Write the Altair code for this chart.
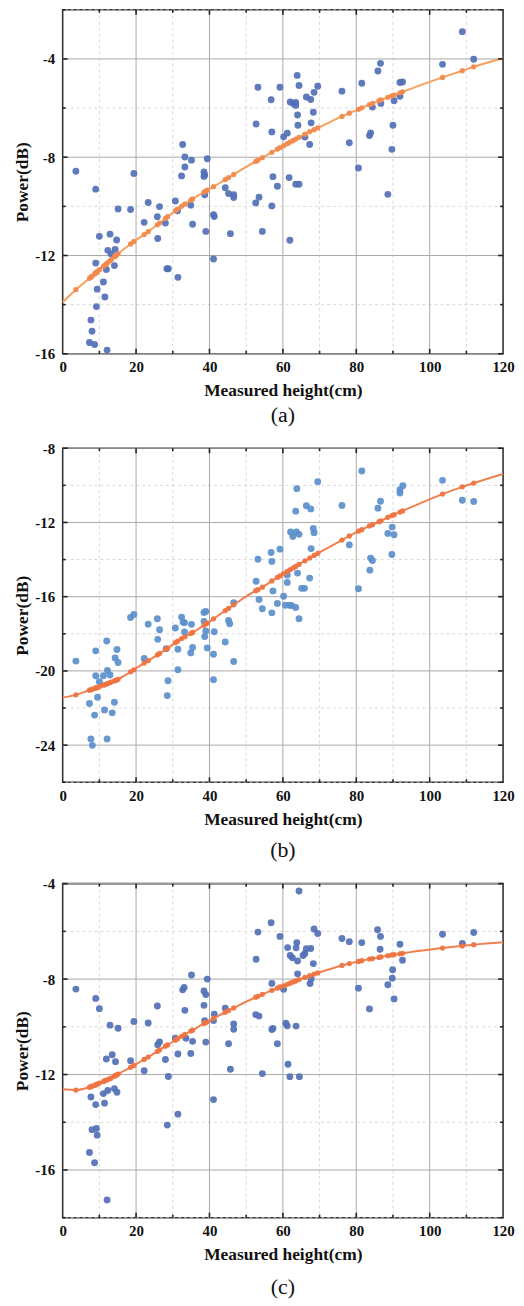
import altair as alt
import pandas as pd

# ---------------- data ----------------
# Panel (a) scatter
a_x = [3.6, 9.0, 10.0, 12.9, 15.1, 19.4, 18.5, 14.7, 12.3, 13.2, 14.3, 9.0, 11.9, 14.1, 11.1, 9.4,
       11.5, 9.2, 7.7, 8.0, 7.3, 8.7, 12.1, 22.2, 23.3, 26.4, 25.8, 25.9, 28.0, 28.4, 28.8, 31.4,
       30.7, 31.3, 32.7, 33.3, 33.3, 32.4, 35.1, 34.9, 35.4, 39.4, 38.5, 38.7, 38.5, 38.7, 39.0,
       41.1, 41.3, 41.1, 44.3, 45.2, 46.6, 46.6, 45.7, 52.7, 53.2, 56.8, 59.2, 62.0, 57.0, 60.2,
       61.2, 57.3, 58.5, 52.6, 53.5, 57.0, 54.4, 61.7, 61.9,
       108.9, 112.0, 103.5, 86.6, 85.9, 81.5, 91.9, 92.6, 76.1, 63.9, 64.4, 69.5, 68.5, 66.4,
       67.6, 62.8, 63.5, 63.5, 68.3, 64.0, 64.1, 67.7, 66.0, 67.3, 78.1, 83.9, 83.6, 90.0, 89.7,
       90.3, 91.9, 86.7, 84.4, 80.6, 88.6, 63.5, 64.4]
a_y = [-8.57, -9.30, -11.22, -11.13, -10.11, -8.66, -10.13, -11.37, -11.79, -11.94, -11.75, -12.31,
       -12.57, -12.41, -13.08, -13.37, -13.69, -14.08, -14.63, -15.08, -15.54, -15.62, -15.85,
       -10.65, -9.84, -10.01, -10.42, -11.31, -10.68, -12.54, -12.54, -12.89, -9.78, -10.18, -7.48,
       -7.99, -8.40, -8.76, -8.12, -9.95, -10.73, -8.06, -8.60, -8.72, -8.78, -9.53, -11.02, -10.34,
       -10.41, -12.14, -9.24, -9.48, -9.53, -9.64, -11.11, -6.65, -5.15, -5.66, -5.15, -5.75, -6.97,
       -7.17, -7.02, -8.79, -9.18, -9.86, -9.63, -9.98, -11.02, -8.83, -11.38,
       -2.89, -4.01, -4.22, -4.18, -4.49, -4.99, -4.96, -4.94, -5.31, -4.67, -5.08, -5.11, -5.36,
       -5.55, -5.65, -5.81, -5.77, -5.89, -6.17, -6.28, -6.70, -6.60, -7.18, -7.48, -7.41, -7.01,
       -7.12, -6.70, -7.68, -5.70, -5.52, -5.81, -5.96, -8.44, -9.51, -9.10, -9.10]

# Panel (b) scatter
b_x = [3.6, 9.0, 12.0, 14.8, 14.3, 15.1, 12.2, 12.9, 9.0, 11.1, 10.0, 9.5, 7.3, 8.7, 11.4, 14.1,
       13.5, 7.7, 8.1, 12.1, 18.5, 19.4, 22.2, 23.3, 25.8, 25.9, 26.4, 28.2, 28.7, 28.5, 30.7, 31.4,
       31.4, 32.4, 32.8, 33.2, 33.2, 35.1, 35.4, 34.9, 38.5, 39.0, 38.5, 39.0, 38.7, 39.4, 41.1,
       41.3, 41.1, 44.3, 45.2, 45.5, 46.6, 46.6, 52.7, 53.2, 56.8, 57.0, 59.2, 57.3, 58.5, 53.5,
       54.4, 57.0,
       60.2, 61.2, 61.2, 60.7, 61.9, 62.4, 63.5, 64.4, 62.1, 63.7, 62.7, 64.4, 63.5, 63.8, 64.0,
       65.1, 65.9,
       81.5, 69.5, 103.5, 92.7, 91.9, 91.9, 108.9, 112.0, 76.1, 85.9, 86.6, 66.4, 67.6, 68.3, 68.5,
       78.1, 67.7, 88.6, 89.8, 90.3, 89.7, 83.9, 84.4, 83.7, 80.6, 67.3]
b_y = [-19.47, -18.92, -18.39, -18.85, -19.30, -19.55, -19.97, -20.22, -20.26, -20.26, -20.58,
       -21.42, -21.76, -22.38, -22.10, -21.69, -22.26, -23.67, -24.01, -23.67, -17.12, -16.96,
       -19.33, -17.48, -17.19, -18.30, -17.78, -18.80, -20.53, -21.33, -17.69, -18.83, -19.94,
       -17.10, -17.37, -17.40, -17.90, -17.49, -18.74, -19.03, -16.85, -16.80, -17.33, -17.85,
       -18.15, -18.76, -19.10, -17.89, -20.47, -18.44, -17.28, -17.46, -16.33, -19.49, -15.17,
       -13.98, -13.62, -14.10, -13.44, -15.69, -16.37, -16.15, -16.65, -16.87,
       -15.98, -15.23, -14.83, -16.46, -16.46, -16.48, -16.58, -17.19, -12.51, -12.51, -12.76,
       -12.64, -11.39, -10.18, -14.73, -15.55, -15.55,
       -9.23, -9.80, -9.73, -10.02, -10.23, -10.41, -10.80, -10.87, -11.09, -11.23, -10.86, -11.10,
       -11.27, -12.32, -12.55, -13.21, -13.41, -12.59, -12.25, -12.66, -13.73, -13.92, -14.05,
       -14.57, -15.57, -15.00]

# Panel (c) scatter
c_x = [3.6, 9.0, 10.0, 12.9, 15.1, 19.4, 18.5, 23.3, 25.8, 26.4, 25.9, 22.2, 28.0, 28.8, 28.5,
       31.4, 30.7, 31.4, 11.9, 13.5, 14.4, 32.7, 33.1, 33.3, 35.1, 35.4, 34.9, 33.6, 38.5, 39.0,
       39.4, 38.5, 38.7, 39.0, 41.3, 41.1, 41.1, 44.3, 46.6, 46.6, 45.2, 45.7, 52.7, 53.2, 56.8,
       59.2, 57.0, 60.2, 52.6, 53.5, 57.3, 57.0, 58.5, 54.4, 60.8, 61.2, 61.4, 61.9, 11.1, 12.3,
       14.1, 14.8, 7.7, 9.0, 11.4, 8.0, 9.2, 9.4, 7.3, 8.7, 12.1,
       64.4, 68.5, 69.5, 85.8, 86.6, 76.1, 78.1, 81.5, 103.5, 112.0, 108.9, 61.3, 63.8, 63.6, 66.4,
       67.6, 62.0, 62.6, 64.0, 65.5, 66.0, 68.3, 86.5, 91.9, 92.6, 64.0, 67.4, 67.7, 80.6, 89.9,
       89.8, 88.6, 90.3, 83.6, 63.6, 64.5]
c_y = [-8.42, -8.81, -9.24, -9.93, -10.06, -9.78, -11.42, -9.84, -9.13, -10.63, -10.75, -11.84,
       -11.37, -12.08, -14.12, -13.66, -10.48, -11.14, -11.35, -11.17, -11.46, -8.45, -8.35, -9.31,
       -7.83, -10.61, -11.12, -10.48, -8.50, -8.65, -8.00, -9.10, -9.74, -10.64, -9.47, -9.74,
       -13.05, -9.22, -9.88, -10.10, -10.71, -11.78, -7.17, -6.03, -5.64, -6.21, -8.18, -8.43,
       -9.49, -9.55, -10.07, -10.11, -10.71, -11.96, -9.85, -9.96, -11.57, -12.09, -12.80, -12.67,
       -12.59, -12.74, -12.94, -13.26, -13.20, -14.31, -14.26, -14.54, -15.27, -15.70, -17.26,
       -4.31, -5.90, -6.09, -5.93, -6.21, -6.30, -6.43, -6.47, -6.12, -6.05, -6.51, -6.68, -6.47,
       -6.69, -6.73, -6.72, -7.01, -7.11, -7.24, -7.01, -6.93, -7.35, -6.75, -6.54, -7.21, -7.78,
       -8.19, -8.00, -8.38, -7.61, -7.96, -8.24, -8.83, -9.25, -9.97, -12.09]

# Fitted-curve points (orange dots), read at the measured heights
fit_x = [3.6, 7.3, 7.7, 8.0, 8.7, 9.0, 9.2, 9.4, 10.0, 11.1, 11.5, 11.9, 12.3, 12.9, 13.2, 14.1,
         14.3, 14.7, 15.1, 18.5, 19.4, 22.2, 23.3, 25.8, 26.4, 28.0, 28.6, 30.7, 31.3, 32.4, 33.3,
         34.9, 35.4, 38.5, 39.0, 39.4, 41.1, 44.3, 45.2, 46.6, 52.6, 53.2, 54.4, 57.0, 58.5, 59.2,
         60.2, 61.2, 62.0, 62.8, 63.5, 64.4, 66.0, 67.3, 68.5, 69.5, 76.1, 78.1, 80.6, 81.5, 83.6,
         84.4, 86.2, 86.7, 88.6, 89.7, 90.3, 91.9, 92.6, 103.5, 108.9, 112.0]
fit_a = [-13.39, -12.93, -12.88, -12.84, -12.75, -12.71, -12.69, -12.66, -12.58, -12.44, -12.39,
         -12.34, -12.29, -12.21, -12.18, -12.05, -12.03, -11.98, -11.93, -11.53, -11.43, -11.15,
         -11.03, -10.75, -10.68, -10.49, -10.42, -10.18, -10.11, -10.00, -9.90, -9.75, -9.70, -9.42,
         -9.38, -9.34, -9.20, -8.91, -8.83, -8.70, -8.17, -8.12, -8.02, -7.80, -7.67, -7.61, -7.53,
         -7.45, -7.38, -7.32, -7.26, -7.19, -7.06, -6.96, -6.88, -6.81, -6.34, -6.21, -6.05, -5.99,
         -5.86, -5.81, -5.70, -5.67, -5.56, -5.50, -5.47, -5.38, -5.34, -4.75, -4.48, -4.32]
fit_b = [-21.29, -21.04, -21.02, -20.99, -20.94, -20.92, -20.91, -20.89, -20.85, -20.77, -20.74,
         -20.71, -20.68, -20.63, -20.60, -20.54, -20.52, -20.49, -20.45, -20.05, -19.94, -19.58,
         -19.45, -19.14, -19.06, -18.85, -18.77, -18.48, -18.40, -18.26, -18.16, -17.98, -17.93,
         -17.54, -17.47, -17.42, -17.19, -16.75, -16.63, -16.44, -15.68, -15.62, -15.49, -15.15,
         -14.96, -14.88, -14.76, -14.64, -14.54, -14.45, -14.37, -14.26, -14.07, -13.92, -13.78,
         -13.67, -12.95, -12.73, -12.47, -12.39, -12.19, -12.12, -11.96, -11.92, -11.72, -11.63,
         -11.58, -11.44, -11.38, -10.47, -10.08, -9.88]
fit_c = [-12.65, -12.53, -12.51, -12.49, -12.45, -12.43, -12.42, -12.40, -12.36, -12.29, -12.26,
         -12.23, -12.21, -12.17, -12.15, -12.07, -12.05, -12.02, -11.98, -11.70, -11.62, -11.37,
         -11.27, -11.03, -10.97, -10.81, -10.76, -10.56, -10.50, -10.40, -10.32, -10.18, -10.14,
         -9.86, -9.82, -9.79, -9.65, -9.39, -9.32, -9.21, -8.76, -8.72, -8.64, -8.47, -8.38, -8.33,
         -8.28, -8.22, -8.17, -8.12, -8.08, -8.02, -7.93, -7.86, -7.79, -7.74, -7.43, -7.35, -7.26,
         -7.23, -7.16, -7.14, -7.09, -7.07, -7.02, -6.99, -6.97, -6.94, -6.92, -6.70, -6.61, -6.56]
# curve ends at x = 0 and x = 120
curve_end_x = [0, 120]
end_a = [-13.90, -3.97]
end_b = [-21.44, -9.39]
end_c = [-12.62, -6.46]

x_major = [0, 20, 40, 60, 80, 100, 120]
x_minor = [10, 30, 50, 70, 90, 110]
y_major_a = [-4, -8, -12, -16]
y_minor_a = [-2, -6, -10, -14]
y_major_b = [-8, -12, -16, -20, -24]
y_minor_b = [-10, -14, -18, -22, -26]
y_major_c = [-4, -8, -12, -16]
y_minor_c = [-6, -10, -14, -18]

FONT = "Liberation Serif"
W = 443


def panel(xs, ys, fy, ends, ydom, ymaj, ymin, blue, oline, odot, caption, H, cap_off):
    xs_scale = alt.Scale(domain=[0, 120], nice=False, zero=False)
    ys_scale = alt.Scale(domain=ydom, nice=False, zero=False)
    xaxis = alt.Axis(values=x_major, title="Measured height(cm)", grid=False, ticks=False,
                     domain=False, labelFont=FONT, labelFontWeight="bold", labelFontSize=15,
                     labelColor="#111", labelPadding=6, labelFlush=False,
                     labelExpr="'' + datum.value",
                     titleFont=FONT, titleFontSize=17.5, titleFontWeight="bold",
                     titleColor="#111", titlePadding=7)
    yaxis = alt.Axis(values=ymaj, title="Power(dB)", grid=False, ticks=False, domain=False,
                     labelFont=FONT, labelFontWeight="bold", labelFontSize=15, labelColor="#111",
                     labelPadding=8, labelFlush=False, labelOverlap=False,
                     labelExpr="'' + datum.value",
                     titleFont=FONT, titleFontSize=17.5, titleFontWeight="bold",
                     titleColor="#111", titlePadding=3)

    def X(f):
        return alt.X(f, scale=xs_scale, axis=xaxis)

    def Y(f):
        return alt.Y(f, scale=ys_scale, axis=yaxis)

    sc = pd.DataFrame({"h": xs, "p": ys})
    fit = pd.DataFrame({"h": fit_x, "p": fy})
    line = pd.concat([pd.DataFrame({"h": [curve_end_x[0]], "p": [ends[0]]}), fit,
                      pd.DataFrame({"h": [curve_end_x[1]], "p": [ends[1]]})], ignore_index=True)

    gx_min = alt.Chart(pd.DataFrame({"h": x_minor})).mark_rule(
        color="#cfcfcf", strokeWidth=0.8, strokeDash=[3, 3]).encode(x=X("h:Q"))
    gy_min = alt.Chart(pd.DataFrame({"p": ymin})).mark_rule(
        color="#cfcfcf", strokeWidth=0.8, strokeDash=[3, 3]).encode(y=Y("p:Q"))
    gx_maj = alt.Chart(pd.DataFrame({"h": x_major[1:-1]})).mark_rule(
        color="#a9a9a9", strokeWidth=1).encode(x=X("h:Q"))
    gy_maj = alt.Chart(pd.DataFrame({"p": ymaj})).mark_rule(
        color="#a9a9a9", strokeWidth=1).encode(y=Y("p:Q"))

    pts = alt.Chart(sc).mark_circle(size=48, color=blue, opacity=0.92).encode(
        x=X("h:Q"), y=Y("p:Q"))
    ln = alt.Chart(line).mark_line(color=oline, strokeWidth=2, interpolate="monotone").encode(
        x=X("h:Q"), y=Y("p:Q"))
    dots = alt.Chart(fit).mark_circle(size=28, color=odot, opacity=0.95).encode(
        x=X("h:Q"), y=Y("p:Q"))

    # inward tick marks on all four sides
    def xticks(vals, ln_):
        d = pd.DataFrame({"h": vals})
        top = alt.Chart(d).mark_rule(color="#222", strokeWidth=1.6).encode(
            x=X("h:Q"), y=alt.value(0), y2=alt.value(ln_))
        bot = alt.Chart(d).mark_rule(color="#222", strokeWidth=1.6).encode(
            x=X("h:Q"), y=alt.value(H), y2=alt.value(H - ln_))
        return [top, bot]

    def yticks(vals, ln_):
        d = pd.DataFrame({"p": vals})
        lft = alt.Chart(d).mark_rule(color="#222", strokeWidth=1.6).encode(
            y=Y("p:Q"), x=alt.value(0), x2=alt.value(ln_))
        rgt = alt.Chart(d).mark_rule(color="#222", strokeWidth=1.6).encode(
            y=Y("p:Q"), x=alt.value(W), x2=alt.value(W - ln_))
        return [lft, rgt]

    ticks = xticks(x_major[1:-1], 5) + xticks(x_minor, 3) + yticks(ymaj, 5) + yticks(ymin, 3)

    return alt.layer(gx_min, gy_min, gx_maj, gy_maj, pts, ln, dots, *ticks).properties(
        width=W, height=H,
        title=alt.TitleParams(text=caption, orient="bottom", font=FONT, fontSize=22,
                              fontWeight="normal", color="#111", offset=cap_off,
                              anchor="middle"))


pa = panel(a_x, a_y, fit_a, end_a, [-16, -2], y_major_a, y_minor_a,
           "#5270b6", "#f7a05c", "#f28a4c", "(a)", 346, 6)
pb = panel(b_x, b_y, fit_b, end_b, [-26, -8], y_major_b, y_minor_b,
           "#5b8fcc", "#f2804f", "#ef7442", "(b)", 336, 13)
pc = panel(c_x, c_y, fit_c, end_c, [-18, -4], y_major_c, y_minor_c,
           "#5270b6", "#f2804f", "#ef7442", "(c)", 336, 14)

chart = alt.vconcat(pa, pb, pc, spacing=13).properties(
    padding={"left": 5, "top": -4, "right": 0, "bottom": 0}
).configure_view(stroke="#333", strokeWidth=1.6)

chart.save("out.html", embed_options={"renderer": "svg", "actions": False})
